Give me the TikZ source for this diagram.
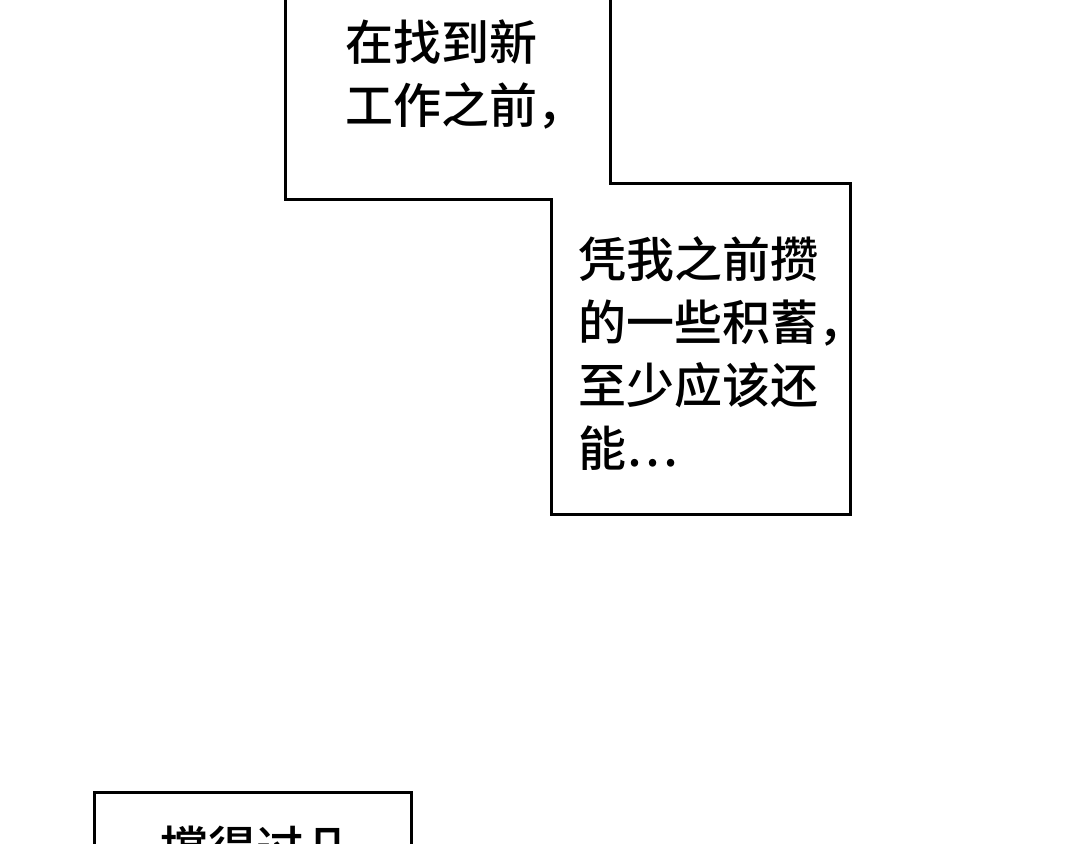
\documentclass[tikz,border=0pt]{standalone}
\usepackage{fontspec}
\newfontfamily\cjk{Noto Sans CJK SC Medium}
\begin{document}
\begin{tikzpicture}[x=1pt,y=1pt,
  txt/.style={anchor=north west,inner sep=0pt,font=\cjk\fontsize{48}{63}\selectfont,align=left,text width=320pt}]
\useasboundingbox[fill=white] (0,0) rectangle (1080,844);
\begin{scope}
\clip (0,0) rectangle (1080,844);
\draw[line width=3pt,fill=white] (285,850) -- (285,644) -- (551,644) -- (551,329) -- (850,329) -- (850,660) -- (610,660) -- (610,850);
\draw[line width=3pt,fill=white] (94,-10) -- (94,51) -- (411,51) -- (411,-10);
\node[txt] (a) at (345,824) {在找到新\\工作之前，};
\node[txt] (b) at (578,608) {凭我之前攒\\的一些积蓄，\\至少应该还\\能…};
\node[txt] (c) at (160,18) {撑得过几};
\end{scope}
\end{tikzpicture}
\end{document}
